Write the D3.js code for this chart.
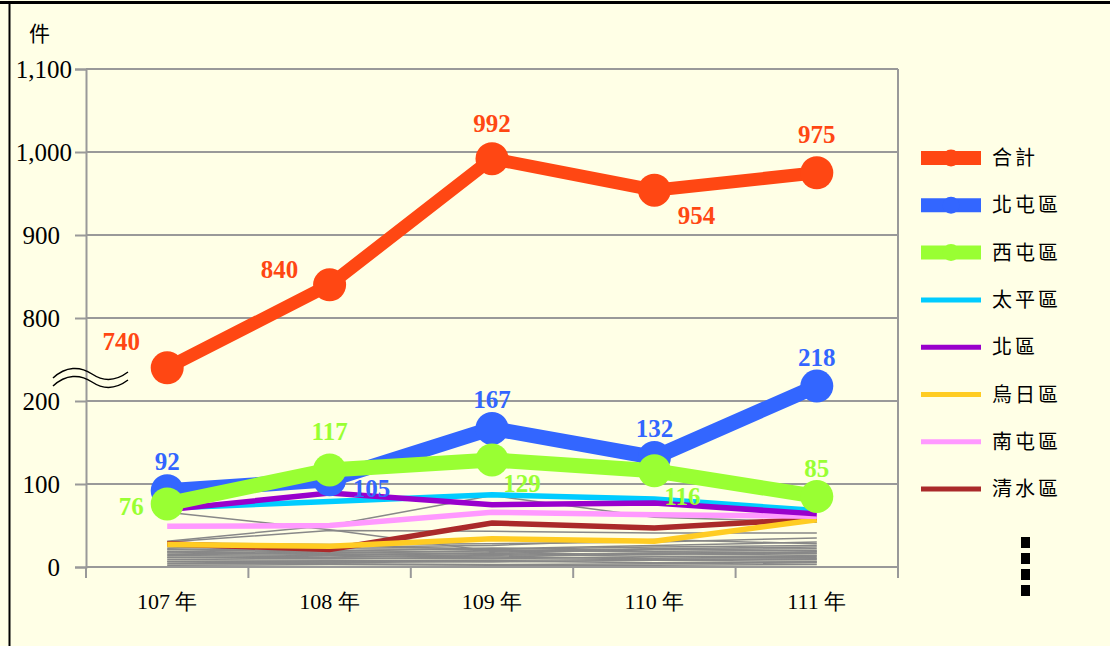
<!DOCTYPE html>
<html>
<head>
<meta charset="utf-8">
<script src="https://cdn.jsdelivr.net/npm/d3@7"></script>
<style>
    body { margin: 0; background: #ffffe6; }
    svg text { font-family: "Liberation Serif", "Times New Roman", serif; }
    .cjk { font-family: "Noto Sans CJK TC", "Noto Sans CJK SC", sans-serif; }
</style>
</head>
<body>
<div id="chart"></div>
<script>
const years = ["107 年", "108 年", "109 年", "110 年", "111 年"];
const yTicks = [0, 100, 200, 800, 900, 1000, 1100];

// main series
const total = [740, 840, 992, 954, 975];
const beitun = [92, 105, 167, 132, 218];
const xitun = [76, 117, 129, 116, 85];
const taiping = [71, 79, 87, 82, 68];
const north = [69, 89, 75, 77, 64];
const wuri = [27, 25, 34, 31, 57];
const nantun = [49, 50, 66, 63, 61];
const qingshui = [28, 21, 53, 47, 58];

// remaining districts (thin gray lines)
const others = [
    [66, 45, 19, 22, 24],
    [31, 50, 86, 60, 54],
    [30, 44, 43, 41, 41],
    [29, 27, 28, 30, 35],
    [28, 25, 22, 26, 30],
    [27, 24, 26, 33, 28],
    [25, 22, 21, 24, 26],
    [24, 20, 18, 21, 22],
    [22, 19, 23, 19, 20],
    [21, 18, 16, 22, 19],
    [19, 17, 20, 18, 17],
    [18, 16, 14, 17, 16],
    [17, 15, 17, 15, 18],
    [15, 14, 12, 16, 14],
    [14, 12, 15, 13, 13],
    [12, 11, 10, 12, 11],
    [11, 10, 12, 10, 9],
    [9, 8, 8, 9, 10],
    [7, 7, 6, 8, 7],
    [6, 5, 7, 5, 6],
    [4, 4, 3, 4, 5],
    [2, 3, 2, 2, 3]
];

const names = ["合計", "北屯區", "西屯區", "太平區", "北區", "烏日區", "南屯區", "清水區"];
const colors = ["#ff4713", "#3366ff", "#99ff33", "#00ccff", "#9900cc", "#ffcc22", "#ff99ff", "#aa2a2a"];

const w = 1110;
const h = 646;

const svg = d3.select("#chart")
    .append("svg")
    .attr("width", w)
    .attr("height", h);

svg.append("rect")
    .attr("width", w).attr("height", h)
    .attr("fill", "#ffffe6");

// frame
svg.append("line").attr("x1", 0).attr("x2", w).attr("y1", 2.5).attr("y2", 2.5)
    .attr("stroke", "#000").attr("stroke-width", 3);
svg.append("line").attr("x1", 9.5).attr("x2", 9.5).attr("y1", 2).attr("y2", h)
    .attr("stroke", "#000").attr("stroke-width", 2);

const xScale = d3.scaleBand()
    .domain(years)
    .range([86, 898]);

// broken axis: lower part 0..250, upper part 700..1100, same unit size
const yScale = d3.scaleLinear()
    .domain([0, 250, 700, 1100])
    .range([567, 567 - 0.83 * 250, 401, 69]);

const cx = function (d, i) { return xScale(years[i]) + xScale.bandwidth() / 2; };

// grid
svg.append("g")
    .selectAll("line")
    .data(yTicks)
    .enter()
    .append("line")
    .attr("x1", 86).attr("x2", 898)
    .attr("y1", function (d) { return yScale(d); })
    .attr("y2", function (d) { return yScale(d); })
    .attr("stroke", "#999").attr("stroke-width", 2);

svg.append("line")
    .attr("x1", 898).attr("x2", 898).attr("y1", yScale(1100)).attr("y2", yScale(0))
    .attr("stroke", "#999").attr("stroke-width", 2);

// y axis
const yAxis = d3.axisLeft(yScale)
    .tickValues(yTicks)
    .tickSize(11)
    .tickPadding(14)
    .tickFormat(d3.format(","));

const yG = svg.append("g")
    .attr("transform", "translate(86,0)")
    .call(yAxis);
yG.select(".domain").attr("stroke", "#999").attr("stroke-width", 2);
yG.selectAll(".tick line").attr("stroke", "#999").attr("stroke-width", 2);
yG.selectAll(".tick text")
    .attr("fill", "#000")
    .style("font-size", "25px")
    .attr("x", function (d) { return d >= 1000 ? -14 : -26; });

// x axis: ticks on the band edges
const edges = years.map(function (d) { return xScale(d); }).concat([898]);
svg.append("g")
    .selectAll("line")
    .data(edges)
    .enter()
    .append("line")
    .attr("x1", function (d) { return d; }).attr("x2", function (d) { return d; })
    .attr("y1", 567).attr("y2", 578)
    .attr("stroke", "#999").attr("stroke-width", 2);

svg.append("line")
    .attr("x1", 86).attr("x2", 898).attr("y1", 567).attr("y2", 567)
    .attr("stroke", "#999").attr("stroke-width", 2);

svg.append("g")
    .selectAll("text")
    .data(years)
    .enter()
    .append("text")
    .attr("x", function (d) { return xScale(d) + xScale.bandwidth() / 2; })
    .attr("y", 609)
    .attr("text-anchor", "middle")
    .style("font-size", "22px")
    .text(function (d) { return d; });

svg.append("text")
    .attr("class", "cjk")
    .attr("x", 29).attr("y", 41)
    .style("font-size", "21px")
    .text("件");

// axis break mark
const waves = svg.append("g").attr("fill", "none").attr("stroke", "#000").attr("stroke-width", 1.5);
[0, 8].forEach(function (off) {
    waves.append("path")
        .attr("d", "M53," + (378 + off) + " C66," + (366 + off) + " 80," + (366 + off) + " 92," + (374 + off)
            + " C104," + (382 + off) + " 116," + (381 + off) + " 128," + (372 + off));
});

const line = d3.line()
    .x(cx)
    .y(function (d) { return yScale(d); });

// gray lines
svg.append("g")
    .selectAll("path")
    .data(others)
    .enter()
    .append("path")
    .attr("d", line)
    .attr("fill", "none")
    .attr("stroke", "#888")
    .attr("stroke-width", 1.5);

svg.append("circle")
    .attr("cx", cx(null, 2)).attr("cy", yScale(others[0][2]))
    .attr("r", 3).attr("fill", "#888");

// thin colored lines, back to front
const thin = [
    [qingshui, 7], [wuri, 5], [nantun, 6], [taiping, 3], [north, 4]
];
thin.forEach(function (t) {
    svg.append("path")
        .datum(t[0])
        .attr("d", line)
        .attr("fill", "none")
        .attr("stroke", colors[t[1]])
        .attr("stroke-width", 5.5);
});

// value labels, offsets from the point
const offsetsTotal = [[-46, -18], [-50, -7], [0, -27], [42, 34], [0, -30]];
const offsetsBeitun = [[0, -21], [42, 17], [0, -20], [0, -20], [0, -20]];
const offsetsXitun = [[-36, 11], [0, -30], [30, 32], [28, 34], [0, -19]];

// thick lines with markers
const thick = [[beitun, 1, offsetsBeitun], [xitun, 2, offsetsXitun], [total, 0, offsetsTotal]];
thick.forEach(function (t) {
    const g = svg.append("g");
    g.append("path")
        .datum(t[0])
        .attr("d", line)
        .attr("fill", "none")
        .attr("stroke", colors[t[1]])
        .attr("stroke-width", t[1] === 0 ? 13 : 15);
    g.selectAll("circle")
        .data(t[0])
        .enter()
        .append("circle")
        .attr("cx", cx)
        .attr("cy", function (d) { return yScale(d); })
        .attr("r", 16.5)
        .attr("fill", colors[t[1]]);
});

thick.forEach(function (t) {
    const off = t[2];
    svg.append("g")
        .selectAll("text")
        .data(t[0])
        .enter()
        .append("text")
        .attr("x", function (d, i) { return cx(d, i) + off[i][0]; })
        .attr("y", function (d, i) { return yScale(d) + off[i][1]; })
        .attr("text-anchor", "middle")
        .attr("fill", colors[t[1]])
        .style("font-size", "25px")
        .style("font-weight", "bold")
        .text(function (d) { return d; });
});

// legend
const legend = svg.append("g")
    .selectAll("g")
    .data(names)
    .enter()
    .append("g")
    .attr("transform", function (d, i) { return "translate(921," + (158 + i * 47.3) + ")"; });

legend.append("line")
    .attr("x1", 0).attr("x2", 60)
    .attr("stroke", function (d, i) { return colors[i]; })
    .attr("stroke-width", function (d, i) { return i < 3 ? 14 : 5; });

legend.filter(function (d, i) { return i < 3; })
    .append("circle")
    .attr("cx", 30).attr("r", 8.5)
    .attr("fill", function (d) { return colors[names.indexOf(d)]; });

legend.append("text")
    .attr("class", "cjk")
    .attr("x", 71).attr("y", 7)
    .style("font-size", "20px")
    .style("letter-spacing", "3px")
    .text(function (d) { return d; });

// vertical ellipsis
svg.append("g")
    .selectAll("rect")
    .data([0, 1, 2, 3])
    .enter()
    .append("rect")
    .attr("x", 1021).attr("y", function (d) { return 537 + d * 16; })
    .attr("width", 9).attr("height", 11)
    .attr("fill", "#000");
</script>
</body>
</html>
